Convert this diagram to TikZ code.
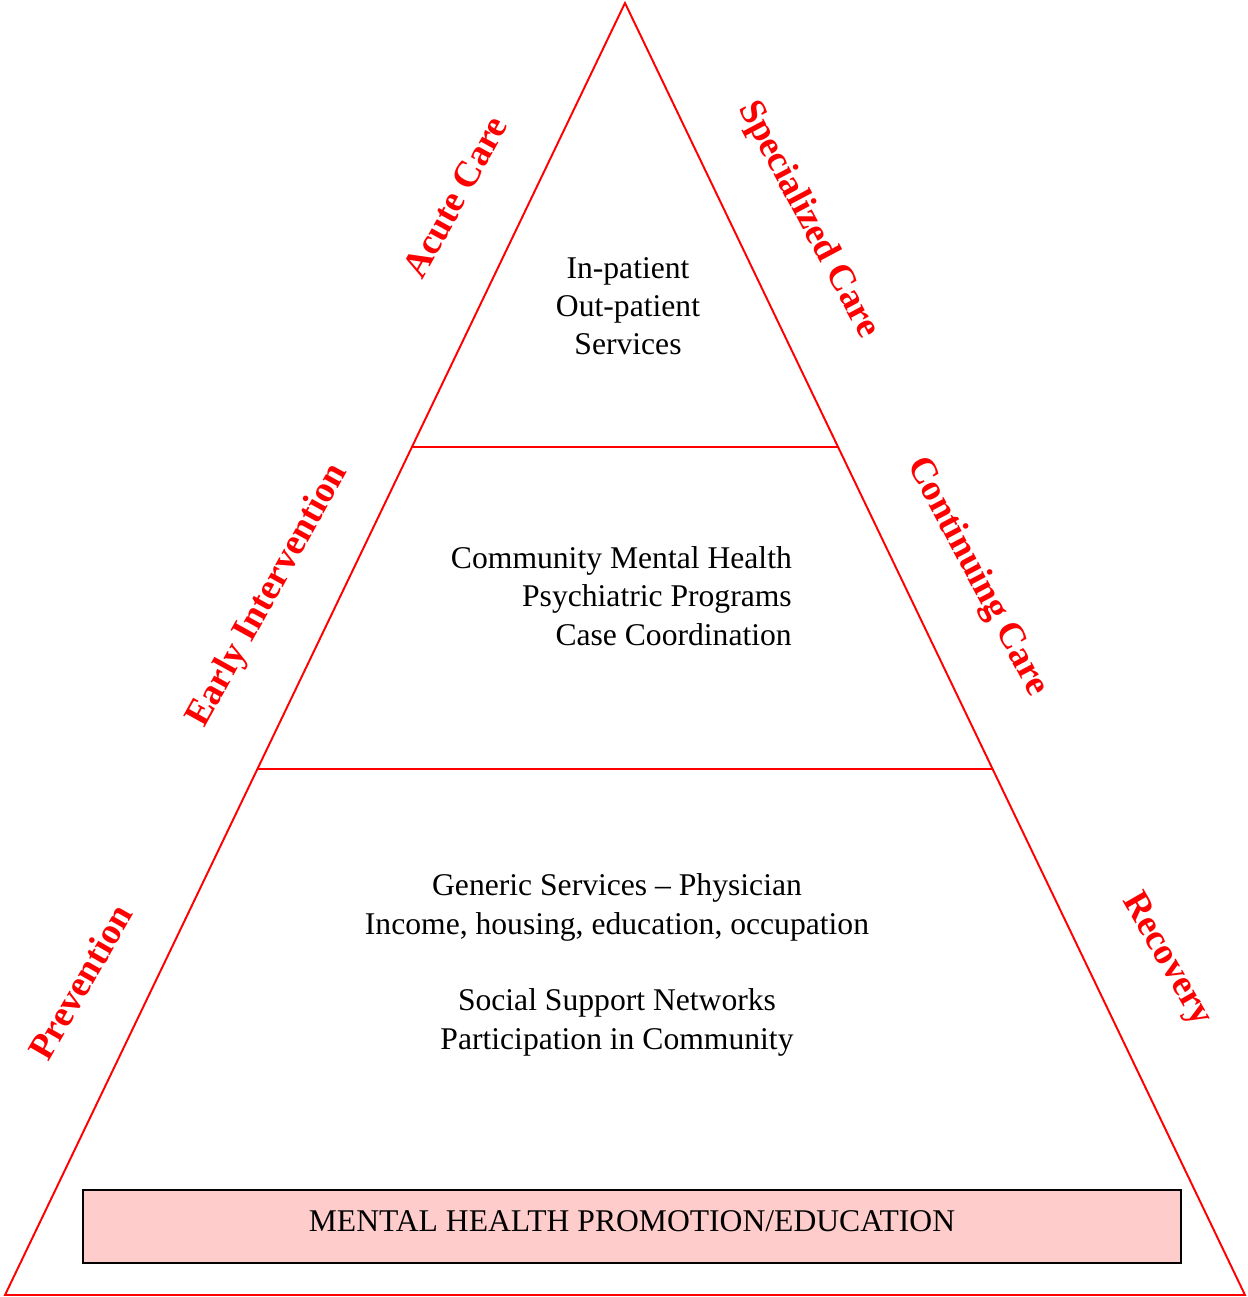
\documentclass[tikz,border=0pt]{standalone}
\usepackage{fontspec}
\setmainfont{Liberation Serif}
\usepackage{tikz}
\usetikzlibrary{calc}
\definecolor{boxpink}{HTML}{FFCCCC}
\tikzstyle{edge} = [draw=red, line width=1.1pt]
\tikzstyle{tier} = [align=center, font=\fontsize{18}{21.8}\selectfont]
\tikzstyle{side} = [text=red, font=\fontsize{21}{24}\selectfont\bfseries, inner sep=0]
\tikzstyle{promo} = [draw=black, fill=boxpink, line width=1.2pt, minimum width=21.96cm, minimum height=1.46cm, text depth=6pt]

\begin{document}
\begin{tikzpicture}[x=0.02cm, y=-0.02cm]
	  \useasboundingbox (0,0) rectangle (1247,1297);
	  \coordinate (apex) at (625,3);
	  \coordinate (bl) at (5,1295);
	  \coordinate (br) at (1245,1295);
	  \coordinate (topl) at ($(apex)!0.3437!(bl)$);
	  \coordinate (topr) at ($(apex)!0.3437!(br)$);
	  \coordinate (midl) at ($(apex)!0.5929!(bl)$);
	  \coordinate (midr) at ($(apex)!0.5929!(br)$);
	
	  \draw [edge, line join=miter] (apex) -- (bl) -- (br) -- cycle;
	  \draw [edge] (topl) -- (topr);
	  \draw [edge] (midl) -- (midr);
	
	  % tiers
	  \node [tier] (acute) at (628,306) {In-patient\\Out-patient\\Services};
	  \node [tier, align=right, anchor=east] (community) at (798,596) {Community Mental Health\\Psychiatric Programs\\Case Coordination};
	  \node [tier] (generic) at (617,965) {Generic Services -- Physician\\Income, housing, education, occupation\\[21.8pt]Social Support Networks\\Participation in Community};
	  \node [promo, font=\fontsize{18}{21.8}\selectfont] (promotion) at (632,1226.5) {MENTAL HEALTH PROMOTION/EDUCATION};
	
	  % side labels
	  \node [side, rotate=61] (acutelbl) at (455,197) {Acute Care};
	  \node [side, rotate=-62] (speclbl) at (808,220) {Specialized Care};
	  \node [side, rotate=61] (earlylbl) at (268,596) {Early Intervention};
	  \node [side, rotate=-62] (contlbl) at (977,577) {Continuing Care};
	  \node [side, rotate=60] (prevlbl) at (80,982) {Prevention};
	  \node [side, rotate=-60] (recovlbl) at (1166,960) {Recovery};
	\end{tikzpicture}
\end{document}
